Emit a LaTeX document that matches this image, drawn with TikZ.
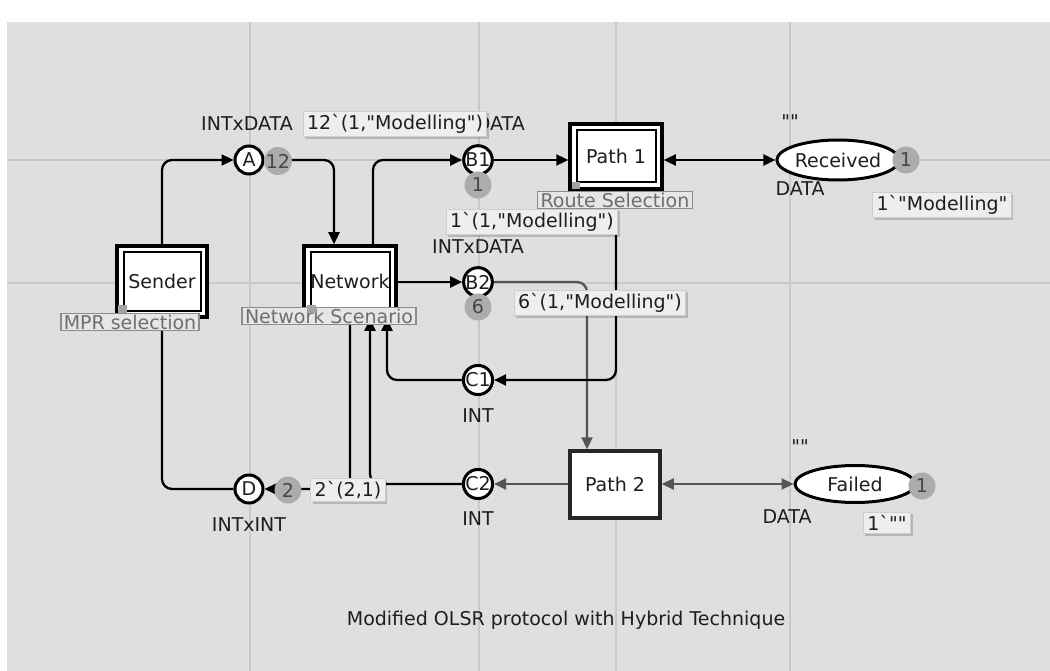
\documentclass[tikz,border=0pt]{standalone}
\usepackage{fontspec}
\setmainfont{DejaVu Sans}[Ligatures=TeXOff]
\usetikzlibrary{arrows.meta,shadows,shapes.geometric}
\definecolor{bgc}{RGB}{223,223,223}
\definecolor{gridc}{RGB}{200,200,200}
\definecolor{tokfill}{RGB}{172,172,172}
\definecolor{toktext}{RGB}{70,70,70}
\definecolor{boxfill}{RGB}{238,238,238}
\definecolor{boxline}{RGB}{205,205,205}
\definecolor{tagfill}{RGB}{230,230,230}
\definecolor{tagline}{RGB}{140,140,140}
\definecolor{tagtext}{RGB}{110,110,110}
\definecolor{arcgray}{RGB}{85,85,85}
\definecolor{txt}{RGB}{30,30,30}
\begin{document}
\begin{tikzpicture}[x=1pt,y=-1pt,
  every node/.style={font=\fontsize{19}{22}\selectfont, text=txt},
  place/.style={circle, draw=black, line width=3pt, fill=white, minimum size=28pt, inner sep=0pt},
  ellplace/.style={ellipse, draw=black, line width=3pt, fill=white, inner sep=0pt},
  token/.style={circle, fill=tokfill, text=toktext, minimum size=27pt, inner sep=0pt},
  transtwo/.style={rectangle, draw=black, line width=3.5pt, fill=white, inner sep=0pt,
    path picture={\draw[line width=2pt] ([xshift=6.5pt,yshift=-6.5pt]path picture bounding box.north west) rectangle ([xshift=-6.5pt,yshift=6.5pt]path picture bounding box.south east);}},
  transone/.style={rectangle, draw=black!85, line width=3.5pt, fill=white, inner sep=0pt,
    drop shadow={shadow xshift=1.5pt,shadow yshift=-1.5pt,fill=black,opacity=0.2}},
  arc/.style={line width=2.3pt, draw=black, rounded corners=10pt, -{Triangle[length=12pt,width=11pt]}},
  garc/.style={arc, draw=arcgray},
  dbl/.style={line width=2.3pt, draw=black, {Triangle[length=12pt,width=11pt]}-{Triangle[length=12pt,width=11pt]}},
  gdbl/.style={dbl, draw=arcgray},
  markbox/.style={rectangle, fill=boxfill, draw=boxline, line width=1pt, inner xsep=4pt, inner ysep=3pt,
    drop shadow={shadow xshift=2pt,shadow yshift=-2pt,fill=black,opacity=0.18}},
  subtag/.style={rectangle, fill=tagfill, draw=tagline, line width=1.5pt, text=tagtext, inner xsep=3pt, inner ysep=1pt},
  typelab/.style={inner sep=0pt}
]
\useasboundingbox (0,0) rectangle (1050,671);
\fill[white] (0,0) rectangle (1050,671);
\fill[bgc] (7,22) rectangle (1050,671);
% grid
\foreach \gx in {250,479,616,790} \draw[gridc, line width=1.8pt] (\gx,22) -- (\gx,671);
\foreach \gy in {160,283} \draw[gridc, line width=1.8pt] (7,\gy) -- (1050,\gy);

% places
\node[place] (A) at (249,160) {A};
\node[place] (B1) at (478,160) {B1};
\node[place] (B2) at (478,282) {B2};
\node[place] (C1) at (478,380) {C1};
\node[place] (C2) at (478,484) {C2};
\node[place] (D) at (249,489) {D};
\node[ellplace, minimum width=118pt, minimum height=40pt] (Rec) at (838,160) {Received};
\node[ellplace, minimum width=120pt, minimum height=37pt] (Fail) at (855,484) {Failed};

% transitions
\node[transtwo, minimum width=90pt, minimum height=71pt] (Sender) at (162,281.5) {Sender};
\node[transtwo, minimum width=92pt, minimum height=71pt] (Network) at (350,281.5) {Network};
\node[transtwo, minimum width=92pt, minimum height=65pt] (P1) at (616,156.5) {Path 1};
\node[transone, minimum width=90pt, minimum height=67pt] (P2) at (615,484.5) {Path 2};

% arcs
\draw[arc] (Sender.north) |- (A.west);
\draw[arc] (A.east) -| ([xshift=-16pt]Network.north);
\draw[arc] ([xshift=23pt]Network.north) |- (B1.west);
\draw[arc] (B1.east) -- (B1.east -| P1.west);
\draw[dbl] (P1.east |- Rec.west) -- (Rec.west);
\draw[arc] (Network.east |- B2.west) -- (B2.west);
\draw[garc] (B2.east) -| ([xshift=-28pt]P2.north);
\draw[arc] (P1.south) |- (C1.east);
\draw[arc] (C1.west) -| ([xshift=37pt]Network.south);
\draw[arc] (C2.west) -| ([xshift=20pt]Network.south);
\draw[arc] (Network.south) |- (D.east);
\draw[arc] (D.west) -| (Sender.south);
\draw[garc] (P2.west |- C2.east) -- (C2.east);
\draw[gdbl] (P2.east |- Fail.west) -- (Fail.west);

% tokens
\node[token] (tA) at (278,161) {12};
\node[token] (tB1) at (478,185) {1};
\node[token] (tB2) at (478,307) {6};
\node[token] (tD) at (288,490) {2};
\node[token] (tR) at (906,160) {1};
\node[token] (tF) at (922,486) {1};

% type and initial marking labels
\node[typelab] (lA) at (247,124) {INTxDATA};
\node[typelab] (lB1) at (479,124) {INTxDATA};
\node[typelab] (lB2) at (478,247) {INTxDATA};
\node[typelab] (lC1) at (478,416) {INT};
\node[typelab] (lC2) at (478,519) {INT};
\node[typelab] (lD) at (249,525) {INTxINT};
\node[typelab] (iR) at (790,122) {""};
\node[typelab] (lR) at (800,189) {DATA};
\node[typelab] (iF) at (800,447) {""};
\node[typelab] (lF) at (787,517) {DATA};

% current markings
\node[markbox] (mA) at (395,124) {12`(1,"Modelling")};
\node[markbox] (mB1) at (532,222) {1`(1,"Modelling")};
\node[markbox] (mB2) at (600,303) {6`(1,"Modelling")};
\node[markbox] (mD) at (348,490) {2`(2,1)};
\node[markbox] (mR) at (942,205) {1`"Modelling"};
\node[markbox] (mF) at (887,523) {1`""};

% subpage tags
\node[subtag] (gS) at (130,322) {MPR selection};
\node[subtag] (gN) at (329,316) {Network Scenario};
\node[subtag] (gP) at (615,200) {Route Selection};
\fill[tagline!80] (118,305) rectangle (127,313);
\fill[tagline!80] (307,305) rectangle (316,313);
\fill[tagline!80] (572,182) rectangle (580,189);

% caption
\node (cap) at (566,620) {Modified OLSR protocol with Hybrid Technique};
\end{tikzpicture}
\end{document}
